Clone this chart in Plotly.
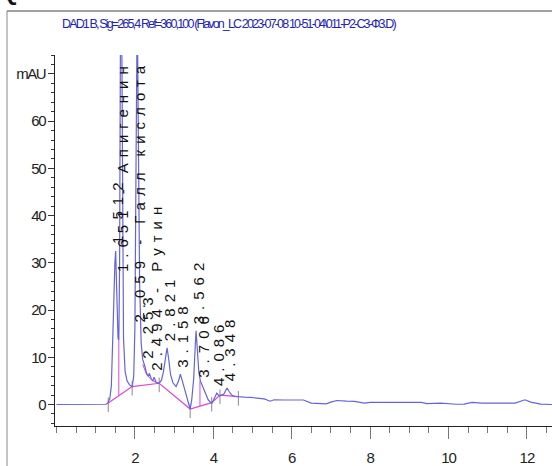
import plotly.graph_objects as go

# ---------------- data ----------------
time_min = [0.0, 0.5, 1.0, 1.25, 1.30, 1.36, 1.40, 1.43, 1.46, 1.49, 1.51, 1.53, 1.55, 1.57, 1.59,
            1.61, 1.63, 1.65, 1.67, 1.69, 1.71, 1.75, 1.80, 1.86, 1.93, 1.97, 2.00, 2.03, 2.06,
            2.09, 2.12, 2.16, 2.20, 2.25, 2.30, 2.34, 2.37, 2.42, 2.46, 2.49, 2.54, 2.62, 2.68,
            2.73, 2.78, 2.82, 2.86, 2.91, 2.97, 3.05, 3.11, 3.16, 3.21, 3.26, 3.32, 3.37, 3.41,
            3.45, 3.50, 3.54, 3.56, 3.59, 3.63, 3.67, 3.71, 3.75, 3.80, 3.87, 3.94, 3.97, 4.02,
            4.07, 4.09, 4.15, 4.20, 4.27, 4.32, 4.35, 4.40, 4.47, 4.55, 4.65, 4.80, 4.95, 5.10,
            5.30, 5.45, 5.55, 5.80, 6.10, 6.30, 6.50, 6.75, 6.88, 7.00, 7.15, 7.40, 7.60, 7.85,
            8.00, 8.50, 9.00, 9.30, 9.45, 9.80, 10.20, 10.40, 10.60, 10.85, 11.30, 11.70, 11.95,
            12.10, 12.35, 12.65]
signal_mau = [0.0, 0.0, 0.0, 0.05, 0.2, 1.2, 4.0, 10.5, 21.0, 30.0, 32.5, 26.0, 17.0, 14.0, 13.6,
              30.0, 75.0, 95.0, 72.0, 32.0, 14.0, 7.0, 5.0, 4.2, 3.7, 6.0, 16.0, 52.0, 85.0,
              55.0, 26.0, 13.0, 9.5, 8.2, 6.6, 6.0, 6.6, 5.4, 5.0, 5.8, 4.7, 4.5, 5.2,
              7.0, 10.0, 12.0, 9.8, 6.3, 4.6, 3.8, 4.9, 6.4, 5.0, 3.4, 1.8, 0.2, -1.0,
              1.0, 5.5, 12.5, 15.6, 12.0, 7.0, 5.0, 4.2, 3.4, 2.0, 1.0, 0.4, 0.3, 1.2,
              2.2, 2.4, 1.8, 1.9, 2.2, 3.0, 3.5, 2.8, 2.0, 1.7, 1.6, 1.55, 1.5, 1.4,
              1.2, 0.7, 1.0, 0.95, 0.9, 0.95, 0.3, 0.3, 0.15, 0.5, 0.85, 0.7, 0.65, 0.3,
              0.45, 0.45, 0.45, 0.45, 0.2, 0.3, 0.05, 0.1, 0.45, 0.3, 0.3, 0.3, 1.0,
              0.5, 0.1, 0.0]

# integration baseline (time, mAU)
baseline_t = [1.32, 1.93, 2.62, 3.41, 3.96, 4.17, 4.64]
baseline_y = [0.3, 3.8, 4.5, -0.95, 0.4, 2.0, 1.65]
skim_t = [2.20, 2.30, 2.45, 2.62]
skim_y = [8.5, 6.3, 5.0, 4.5]
drop_t = [1.59, 3.66]
drop_top = [13.6, 5.0]

# peaks (retention time, apex height, compound)
peak_rt = [1.512, 1.651, 2.059, 2.253, 2.494, 2.821, 3.158, 3.562, 3.706, 4.086, 4.348]
peak_height = [32.5, 95.0, 85.0, 8.2, 5.8, 12.0, 6.4, 15.6, 4.2, 2.4, 3.5]
peak_name = ["", "Апигенин", "Галл кислота", "", "Рутин", "", "", "", "", "", ""]

x_ticks = [2, 4, 6, 8, 10, 12]
x_ticktext = ["2", "4", "6", "8", "10", "12"]
y_ticks = [0, 10, 20, 30, 40, 50, 60, 70]
y_ticktext = ["0", "10", "20", "30", "40", "50", "60", "mAU"]

title_text = "DAD1 B, Sig=265,4 Ref=360,100 (Flavon_LC 2023-07-08 10-51-04\\011-P2-C3-Ф3.D)"

# ---------------- figure ----------------
XR = [-0.038, 12.64]
YR = [-4.55, 74.0]
SANS = "Liberation Sans, Arial, sans-serif"
L, T, W, H = 55, 55, 497, 371  # plot area in px


def px_x(px):
    return (px - L) / W


def px_y(py):
    return (T + H - py) / H


def tight(s, sp):
    return f'<span style="letter-spacing:{sp}px">{s}</span>'


def interp(t, xs, ys):
    for i in range(len(xs) - 1):
        if xs[i] <= t <= xs[i + 1]:
            f = (t - xs[i]) / (xs[i + 1] - xs[i])
            return ys[i] + f * (ys[i + 1] - ys[i])
    return ys[-1]


fig = go.Figure()

# event tick marks (grey)
tx, ty = [], []
for t, b in zip(baseline_t, baseline_y):
    tx += [t, t, None]
    ty += [b + 1.2, b - 1.9, None]
fig.add_trace(go.Scatter(x=tx, y=ty, mode="lines", line=dict(color="#8a8a8a", width=1),
                         hoverinfo="skip", showlegend=False))

# drop lines
dx, dy = [], []
for t, top in zip(drop_t, drop_top):
    dx += [t, t, None]
    dy += [interp(t, baseline_t, baseline_y), top, None]
fig.add_trace(go.Scatter(x=dx, y=dy, mode="lines", line=dict(color="#dd44dd", width=1),
                         hoverinfo="skip", showlegend=False))

# baseline
fig.add_trace(go.Scatter(x=baseline_t, y=baseline_y, mode="lines",
                         line=dict(color="#dd44dd", width=1.2), hoverinfo="skip", showlegend=False))
fig.add_trace(go.Scatter(x=skim_t, y=skim_y, mode="lines",
                         line=dict(color="#dd44dd", width=1), hoverinfo="skip", showlegend=False))

# chromatogram
fig.add_trace(go.Scatter(x=time_min, y=signal_mau, mode="lines",
                         line=dict(color="#6464dc", width=1.2), showlegend=False))

# peak labels
px_per_unit = H / (YR[1] - YR[0])
for rt, h, name in zip(peak_rt, peak_height, peak_name):
    txt = f"{rt:.3f}" + (f" - {name}" if name else "")
    est_len = len(txt) * 13.5 / px_per_unit
    base = h + 1.0
    span = tight(txt, 6)
    if base + est_len > YR[1]:
        fig.add_annotation(x=rt, y=YR[1] - 0.6, xref="x", yref="y", text=span, textangle=-90,
                           showarrow=False, xanchor="center", yanchor="top", xshift=2,
                           font=dict(family=SANS, size=15, color="#111"))
    else:
        fig.add_annotation(x=rt, y=base, xref="x", yref="y", text=span, textangle=-90,
                           showarrow=False, xanchor="center", yanchor="bottom", xshift=2,
                           font=dict(family=SANS, size=15, color="#111"))

# title
fig.add_annotation(x=px_x(60), y=px_y(24), xref="paper", yref="paper",
                   text=tight(title_text, -1.85), showarrow=False, xanchor="left", yanchor="middle",
                   font=dict(family=SANS, size=12.5, color="#2424b4"))

# cropped heading at the very top
fig.add_annotation(x=px_x(-2), y=px_y(7), xref="paper", yref="paper",
                   text="<b>Q.Gm</b>", showarrow=False, xanchor="left", yanchor="bottom",
                   font=dict(family=SANS, size=24, color="#111"))

# outer frame lines
fig.add_shape(type="line", xref="paper", yref="paper",
              x0=px_x(7), x1=1.0, y0=px_y(11), y1=px_y(11),
              line=dict(color="#444", width=1))
fig.add_shape(type="line", xref="paper", yref="paper",
              x0=px_x(7), x1=px_x(7), y0=px_y(11), y1=px_y(470),
              line=dict(color="#888", width=1))

fig.update_xaxes(range=XR, showgrid=False, zeroline=False, showline=True, linecolor="#222",
                 linewidth=1, ticks="outside", ticklen=12, tickcolor="#777", tickwidth=1,
                 tickvals=x_ticks, ticktext=[tight(s, -1) for s in x_ticktext],
                 ticklabelstandoff=6, automargin=False,
                 tickfont=dict(family=SANS, size=15, color="#222"),
                 minor=dict(dtick=0.5, tick0=0, ticks="outside", ticklen=6, tickcolor="#777"))
fig.update_yaxes(range=YR, showgrid=False, zeroline=False, showline=True, linecolor="#222",
                 linewidth=1, ticks="outside", ticklen=6, tickcolor="#333",
                 tickvals=y_ticks, ticktext=[tight(s, -1.5) for s in y_ticktext],
                 automargin=False,
                 tickfont=dict(family=SANS, size=15, color="#222"),
                 minor=dict(dtick=2, tick0=0, ticks="outside", ticklen=3, tickcolor="#333"))

fig.update_layout(width=552, height=466, margin=dict(l=L, r=0, t=T, b=466 - T - H, autoexpand=False),
                  paper_bgcolor="white", plot_bgcolor="white", showlegend=False)

fig.write_html("out.html", config={"displayModeBar": False},
               post_script="document.body.style.margin='0';document.body.style.overflow='hidden';")
